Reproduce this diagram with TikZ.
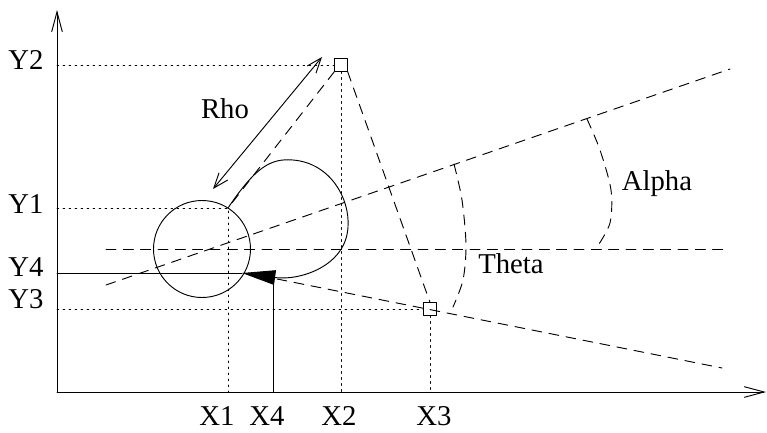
\documentclass[tikz,border=0pt]{standalone}
\usepackage{fontspec}
\setmainfont{Liberation Serif}
\usetikzlibrary{arrows.meta}

\tikzset{
  guide/.style={dash pattern=on 0.5mm off 1.3mm},
  ray/.style={dash pattern=on 3mm off 2.2mm},
  markbox/.style={draw,fill=white,minimum size=3.7mm,inner sep=0pt},
  axis/.style={-{Straight Barb[length=6mm,width=3.2mm]}},
  lbl/.style={anchor=base,inner sep=0pt,text depth=0pt,font=\fontsize{24.5}{28}\selectfont},
}

\begin{document}
\begin{tikzpicture}[x=0.3mm,y=-0.3mm,line width=0.8pt,line cap=round,line join=round]
  \useasboundingbox (0,0) rectangle (767,432);
  % axes
  \coordinate (O) at (57,392); \coordinate (ytop) at (57,10); \coordinate (xend) at (766,392);
  \draw[axis] (O) -- (ytop);
  \draw[axis] (O) -- (xend);
  % points
  \coordinate (C) at (202,249); \coordinate (P1) at (228,208); \coordinate (P4) at (242,273);
  \node[markbox] (P2) at (341,65) {};
  \node[markbox] (P3) at (430,309) {};
  \coordinate (y1) at (57,208); \coordinate (x1) at (228,392);
  \coordinate (y2) at (57,65);  \coordinate (x2) at (341,392);
  \coordinate (y3) at (57,309); \coordinate (x3) at (430,392);
  \coordinate (y4) at (57,273); \coordinate (x4) at (273,392); \coordinate (x4top) at (273,285);
  % projections
  \draw[guide] (y2) -- (P2.west) (P2.south) -- (x2);
  \draw[guide] (y1) -- (P1) -- (x1);
  \draw[guide] (y3) -- (P3.west) (P3.south) -- (x3);
  \draw (y4) -- (P4); \draw (x4) -- (x4top);
  % rays
  \coordinate (hA) at (106,249); \coordinate (hB) at (730,249);
  \coordinate (uA) at (106,285); \coordinate (uB) at (730,69);
  \coordinate (lA) at (277,279); \coordinate (lB) at (722,368);
  \draw[ray] (hA) -- (hB); \draw[ray] (uA) -- (uB); \draw[ray] (lA) -- (lB);
  \draw[ray] (P2.south west) -- (P1);
  \draw[ray] (P2.south east) -- (P3.north);
  \draw[ray] plot[smooth] coordinates {(454,164) (462,200) (466,245) (463,280) (453,307)};
  \draw[ray] plot[smooth] coordinates {(587,119) (600,150) (611,190) (610,223) (597,247)};
  % circle and loop
  \draw (C) circle[radius=48.5];
  \draw[-{Triangle[length=10mm,width=4.4mm]}] (P1) .. controls (255,168) and (270,158) .. (293,160)
    .. controls (330,163) and (350,198) .. (348,227) .. controls (346,266) and (300,281) .. (P4);
  \coordinate (rA) at (213,189); \coordinate (rB) at (322,57);
  \draw[{Straight Barb[length=4.5mm,width=3.4mm]}-{Straight Barb[length=4.5mm,width=3.4mm]}] (rA) -- (rB);
  % labels
  \node[lbl,anchor=base east] at (44,69) {Y2};
  \node[lbl,anchor=base east] at (44,213) {Y1};
  \node[lbl,anchor=base east] at (44,276) {Y4};
  \node[lbl,anchor=base east] at (44,308) {Y3};
  \node[lbl] at (217,425) {X1}; \node[lbl] at (267,425) {X4};
  \node[lbl] at (339,425) {X2}; \node[lbl] at (434,425) {X3};
  \node[lbl] at (225,118) {Rho};
  \node[lbl] at (511,273) {Theta};
  \node[lbl] at (657,190) {Alpha};
\end{tikzpicture}
\end{document}
